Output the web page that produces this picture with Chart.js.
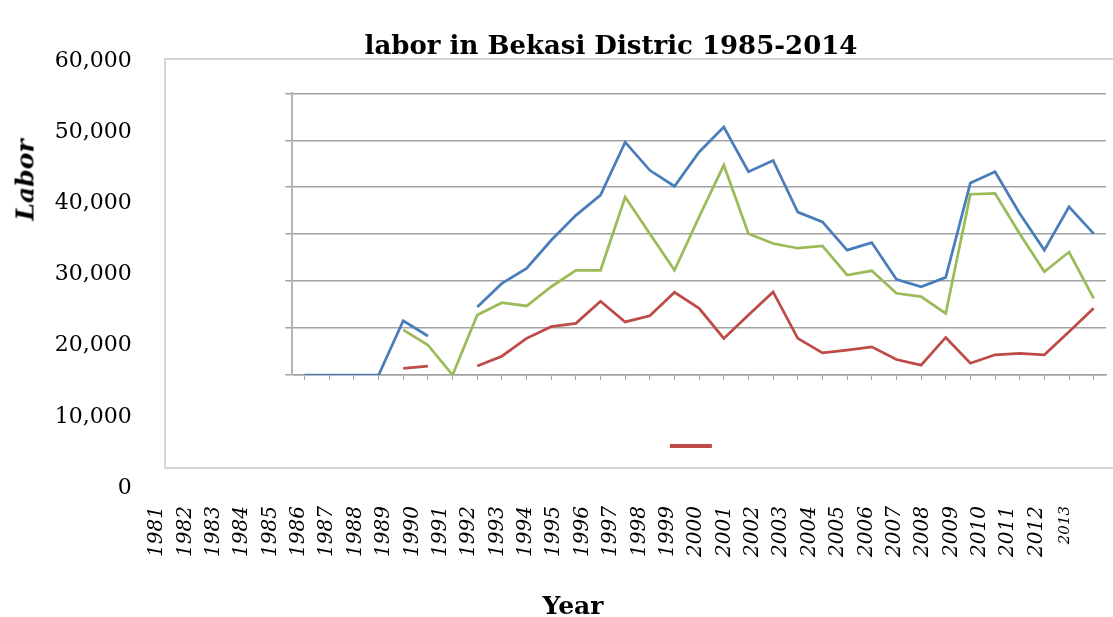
<!DOCTYPE html>
<html>
<head>
<meta charset="utf-8">
<script src="https://cdn.jsdelivr.net/npm/chart.js@4.4.0/dist/chart.umd.min.js"></script>
<style>
  body { margin: 0; background: #fff; overflow: hidden; }
  #page { position: relative; width: 1113px; height: 617px; }
  canvas { position: absolute; left: 0; top: 0; }
  #frame { position: absolute; left: 164px; top: 58px; width: 960px; height: 407px;
           border: 2px solid #d6d6d6; background: #fff; }
  .axisTitle { position: absolute; font-family: 'DejaVu Serif'; font-weight: bold; font-size: 25px;
               color: #000; white-space: nowrap; transform: translate(-50%, -50%); }
  #labor { left: 25px; top: 180px; font-style: italic; transform: translate(-50%, -50%) rotate(-90deg); }
  #year { left: 573px; top: 605px; }
</style>
</head>
<body>
<div id="page">
  <canvas id="outer" width="1113" height="617"></canvas>
  <div id="frame"></div>
  <canvas id="inner" width="1113" height="617"></canvas>
  <div class="axisTitle" id="labor">Labor</div>
  <div class="axisTitle" id="year">Year</div>
</div>
<script>
// categories (x labels as printed under the chart)
const years = ['1981','1982','1983','1984','1985','1986','1987','1988','1989','1990','1991',
  '1992','1993','1994','1995','1996','1997','1998','1999','2000','2001','2002','2003','2004',
  '2005','2006','2007','2008','2009','2010','2011','2012','2013'];

// series (inner plot scale 0 - 60,000)
const total = [0,0,0,0,11550,8300,null,14500,19500,22700,28700,34000,38300,49600,43600,40200,
  47500,52800,43300,45700,34700,32600,26600,28200,20400,18800,20800,40900,43300,34400,26600,35800,30100];
const groupOne = [null,null,null,null,9600,6400,0,12800,15400,14700,18800,22300,22300,37900,30100,
  22300,33700,44700,30100,28000,27000,27500,21300,22200,17400,16700,13100,38500,38700,30100,22000,26200,16300];
const groupTwo = [null,null,null,null,1400,1900,null,1900,4000,7800,10300,11000,15700,11300,12600,
  17600,14200,7800,12800,17700,7800,4700,5300,6000,3300,2100,8000,2500,4300,4600,4300,9200,14200];

const yMin = 0, yMax = 60000, yStep = 10000;
const title = 'labor in Bekasi Distric 1985-2014';

Chart.defaults.font.family = 'DejaVu Serif';
Chart.defaults.color = '#000';

// outer axis labels + title
new Chart(document.getElementById('outer'), {
  type: 'line',
  data: { labels: years, datasets: [] },
  options: {
    responsive: false,
    animation: false,
    layout: { padding: { left: 0, right: 33.8, top: 0, bottom: 39 } },
    scales: {
      x: {
        type: 'category',
        offset: true,
        grid: { display: false, drawTicks: false },
        border: { display: false },
        ticks: {
          autoSkip: false, minRotation: 90, maxRotation: 90, padding: 18,
          font: ctx => ({ family: 'DejaVu Serif', style: 'italic', size: ctx.index === years.length - 1 ? 15 : 20 })
        },
        afterFit: s => { s.height = 90; }
      },
      y: {
        min: yMin, max: yMax,
        grid: { display: false, drawTicks: false },
        border: { display: false },
        ticks: {
          stepSize: yStep, padding: 11,
          font: { family: 'DejaVu Serif', size: 22 },
          callback: v => v.toLocaleString('en-US')
        },
        afterFit: s => { s.width = 142.8; }
      }
    },
    plugins: {
      legend: { display: false },
      tooltip: { enabled: false },
      title: {
        display: true, text: title, fullSize: false,
        font: { family: 'DejaVu Serif', weight: 'bold', size: 26, lineHeight: 1 },
        padding: { top: 34, bottom: 0.8 }
      }
    }
  }
});

// plotted lines
const gridGrey = '#a3a3a3';
new Chart(document.getElementById('inner'), {
  type: 'line',
  data: {
    labels: years,
    datasets: [
      { label: 'total', data: total, borderColor: '#4a7ebb', backgroundColor: '#4a7ebb' },
      { label: 'groupOne', data: groupOne, borderColor: '#9bbb59', backgroundColor: '#9bbb59' },
      { label: 'groupTwo', data: groupTwo, borderColor: '#be4b48', backgroundColor: '#be4b48' }
    ]
  },
  options: {
    responsive: false,
    animation: false,
    spanGaps: false,
    elements: {
      line: { borderWidth: 2.75, tension: 0 },
      point: { radius: 0 }
    },
    layout: { padding: { left: 282.3, right: 7, top: 93.3, bottom: 144.5 } },
    scales: {
      x: {
        type: 'category',
        offset: true,
        grid: { display: true, drawOnChartArea: false, drawTicks: true, tickLength: 5, color: gridGrey },
        border: { display: true, color: gridGrey, width: 1.5 },
        ticks: { display: false },
        afterFit: s => { s.height = 8; }
      },
      y: {
        min: yMin, max: yMax,
        grid: { color: gridGrey, lineWidth: 1.5, tickLength: 7 },
        border: { display: true, color: '#b5b5b5', width: 2 },
        ticks: { display: false, stepSize: yStep },
        afterFit: s => { s.width = 10; }
      }
    },
    plugins: {
      tooltip: { enabled: false },
      legend: {
        position: 'bottom',
        fullSize: false,
        labels: {
          boxWidth: 42, boxHeight: 4, padding: 46.5,
          font: { size: 33 },
          filter: item => item.datasetIndex === 2,
          generateLabels: chart =>
            Chart.defaults.plugins.legend.labels.generateLabels(chart)
              .map(l => Object.assign(l, { text: '', lineWidth: 0 }))
        }
      }
    }
  }
});
</script>
</body>
</html>
